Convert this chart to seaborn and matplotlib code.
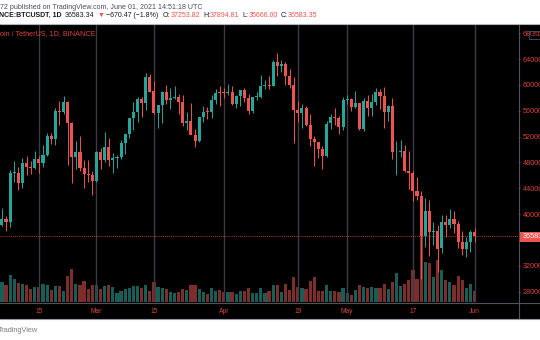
import matplotlib
matplotlib.use("Agg")
import numpy as np
import pandas as pd
import matplotlib.pyplot as plt
from matplotlib.patches import Rectangle
from matplotlib.lines import Line2D
import seaborn as sns

# ---- BTC/USDT daily candles, Binance, 2021-02-05 .. 2021-06-01 ----
dates = pd.date_range("2021-02-05", "2021-06-01", freq="D")

opens = [
    36936, 38290, 39181, 38795, 46374, 46420, 44807, 47969, 47298, 47156, 48580, 47911,
    49133, 52117, 51553, 55906, 55841, 57412, 54087, 48892, 49676, 47073, 46277, 46103,
    45134, 49596, 48436, 50349, 48374, 48747, 48882, 50959, 52375, 54874, 55851, 57773,
    57222, 61188, 58976, 55605, 56900, 58912, 57641, 58030, 58100, 57351, 54084, 54342,
    52303, 51293, 55026, 55817, 55782, 57635, 58760,
    58740, 58720, 58950, 57051, 58202, 59130, 57991, 55953, 58077, 58142, 59769, 60002,
    59860, 63576, 62960, 63159, 61335, 60006, 56150, 55633, 56425, 53787, 51690, 51110,
    50047, 49004, 54022, 55033, 54825, 53556,
    57697, 57828, 56578, 57169, 53206, 57436, 56393, 57315, 58866, 58241, 55816, 56670,
    49537, 49672, 49841, 46723, 46424, 43538, 42849, 36691, 40526, 37253, 37449, 34700,
    38797, 38324, 39241, 38529, 35661, 34606, 35658,
    37253.82,
]
highs = [
    38310, 40955, 39700, 46794, 48200, 47310, 48678, 48985, 48150, 49707, 49010, 50620,
    52618, 52530, 56368, 57493, 58352, 57508, 54183, 51374, 52041, 48424, 48394, 46638,
    49791, 50200, 52640, 51773, 49448, 49200, 51450, 52402, 54895, 57387, 58150, 58058,
    61844, 61724, 60633, 56938, 58982, 60000, 59468, 59880, 58589, 58430, 55830, 57200,
    53230, 55073, 56700, 56559, 58400, 59368, 59800,
    59490, 60200, 59791, 58500, 59251, 59474, 58650, 58153, 58869, 61500, 60699, 61300,
    63777, 64854, 63800, 63520, 62506, 61287, 57526, 57076, 56757, 55521, 52131, 51200,
    50566, 54356, 55460, 56428, 55200, 58075,
    58458, 57932, 58980, 57200, 57980, 58360, 58650, 59500, 59300, 59600, 56862, 58000,
    51367, 51483, 50700, 49800, 46643, 45799, 43546, 42451, 42200, 38856, 38270, 39920,
    39791, 40841, 40411, 38877, 37338, 36400, 37499,
    37894.81,
]
lows = [
    36570, 38215, 37351, 37988, 45000, 43727, 43995, 46125, 46202, 47014, 46347, 47225,
    48947, 50901, 50710, 53863, 55477, 47622, 44892, 47004, 46674, 44106, 45000, 43000,
    45000, 47047, 48100, 47500, 46300, 47070, 48550, 49274, 51789, 53005, 54272, 55013,
    56078, 58966, 55542, 53271, 54124, 57023, 56270, 57820, 55450, 53650, 53000, 52820,
    50427, 51214, 54242, 54691, 54900, 57000, 56769,
    57935, 58428, 56880, 56478, 56800, 57333, 55473, 55700, 57670, 57900, 59300, 59371,
    59770, 61301, 62020, 60000, 59580, 51000, 54221, 53329, 53696, 50500, 47500, 48753,
    46930, 48800, 53222, 53813, 52330, 53068,
    57052, 56000, 56478, 53000, 52900, 55200, 55241, 56900, 56235, 53400, 54370, 48600,
    46000, 48800, 46555, 43825, 42001, 42250, 30000, 34850, 33488, 35200, 31111, 34031,
    36419, 37800, 37134, 34684, 33632, 33380, 34153,
    35666.00,
]
closes = [
    38290, 39186, 38795, 46374, 46420, 44807, 47969, 47287, 47153, 48577, 47911, 49133,
    52119, 51552, 55906, 55841, 57408, 54087, 48891, 49676, 47073, 46276, 46106, 45135,
    49587, 48440, 50349, 48374, 48751, 48882, 50971, 52375, 54884, 55851, 57773, 57221,
    61188, 58968, 55605, 56900, 58912, 57648, 58030, 58102, 57351, 54083, 54340, 52303,
    51293, 55025, 55817, 55777, 57635, 58746, 58740,
    58720, 58950, 57051, 58202, 59129, 57991, 55953, 58077, 58142, 59769, 60002, 59860,
    63575, 62959, 63160, 61334, 60006, 56150, 55633, 56425, 53787, 51690, 51125, 50047,
    49004, 54021, 55033, 54824, 53555, 57697,
    57828, 56578, 57169, 53200, 57436, 56393, 57314, 58862, 58240, 55816, 56670, 49631,
    49670, 49841, 46708, 46426, 43538, 42849, 36691, 40526, 37252, 37449, 34655, 38797,
    38324, 39241, 38529, 35664, 34606, 35678, 37253,
    36583.35,
]
# traded volume, thousand BTC
volumes = [
    60, 79, 68, 108, 91, 76, 72, 69, 51, 59, 60, 72,
    69, 48, 64, 64, 45, 105, 132, 73, 68, 85, 53, 67,
    67, 51, 64, 67, 61, 37, 44, 53, 56, 65, 65, 56,
    67, 44, 80, 60, 56, 53, 41, 37, 39, 51, 48, 67,
    69, 51, 41, 32, 56, 44, 48,
    40, 40, 40, 32, 44, 44, 57, 36, 36, 55, 36, 45,
    67, 67, 40, 73, 49, 100, 61, 57, 52, 84, 100, 45,
    45, 68, 45, 45, 40, 56,
    37, 28, 47, 68, 61, 55, 59, 55, 55, 71, 51, 79,
    115, 64, 71, 89, 128, 92, 272, 160, 156, 99, 169, 127,
    87, 81, 68, 105, 89, 56, 73,
    45,
]

tick_dates = ["2021-02-15", "2021-03-01", "2021-03-15", "2021-04-01",
              "2021-04-19", "2021-05-01", "2021-05-17", "2021-06-01"]
tick_labels = ["15", "Mar", "15", "Apr", "19", "May", "17", "Jun"]
price_ticks = [28000, 32000, 36000, 40000, 44000, 48000, 52000,
               56000, 60000, 64000, 68000]
last_price = 36583.35
prev_close = 37253.82

# ---- styling ----
sns.set_theme(style="dark")
plt.rcParams["font.family"] = ["Liberation Sans", "DejaVu Sans"]

UP, DOWN = "#26a69a", "#ef5350"
UP_VOL, DOWN_VOL = "#1a5c56", "#7c2d2c"
AXIS_RED = "#d9463f"
GRID = "#3a3d47"
SEP = "#50535e"
DARK = "#131722"

W, H = 540, 340
fig = plt.figure(figsize=(W / 100, H / 100), dpi=100, facecolor="white")


def fx(x):
    return x / W


def fy(y):
    return 1 - y / H


# dark chart panel
fig.patches.append(Rectangle((0, fy(319)), 1, fy(24) - fy(319), transform=fig.transFigure,
                             facecolor="black", edgecolor="none", zorder=-10))

df = pd.DataFrame({"date": dates, "open": opens, "high": highs, "low": lows,
                   "close": closes, "volume": volumes})
df["day"] = (df["date"] - df["date"].iloc[0]).dt.days
df["dir"] = np.where(df["close"] >= df["open"], "up", "down")

px_per_day = 4.11
x_first = -2.21          # pixel position of the first session
x_lo = (0 - x_first) / px_per_day
x_hi = (518 - x_first) / px_per_day

rect = [0, fy(302), 518 / W, 277 / H]

# volume overlay (behind candles)
vax = fig.add_axes(rect)
vax.set_facecolor("black")
sns.barplot(data=df, x="day", y="volume", hue="dir", native_scale=True,
            palette={"up": UP_VOL, "down": DOWN_VOL}, saturation=1, width=0.78,
            dodge=False, errorbar=None, legend=False, linewidth=0, ax=vax)
vax.set_xlim(x_lo, x_hi)
vax.set_ylim(0, 277 * 4)
vax.axis("off")

# price pane
ax = fig.add_axes(rect)
ax.set_facecolor("none")
ax.set_xlim(x_lo, x_hi)
ax.set_ylim(26407, 69260)

tick_days = [(pd.Timestamp(d) - df["date"].iloc[0]).days for d in tick_dates]
for d in tick_days:
    ax.axvline(d, color=GRID, lw=1.0, zorder=0)

colors = np.where(df["dir"] == "up", UP, DOWN)
ax.vlines(df["day"], df["low"], df["high"], colors=colors, lw=0.7, zorder=2)
body_lo = np.minimum(df["open"], df["close"])
body_h = np.maximum(np.abs(df["close"] - df["open"]), 140)
ax.bar(df["day"], body_h, bottom=body_lo, width=0.74, color=colors, linewidth=0, zorder=3)

ax.axhline(last_price, color=DOWN, lw=0.6, ls=(0, (1, 1.5)), zorder=1)

for s in ax.spines.values():
    s.set_visible(False)

ax.yaxis.tick_right()
ax.set_yticks(price_ticks)
ax.set_yticklabels([str(p) for p in price_ticks])
ax.tick_params(axis="y", length=1.5, width=0.6, color=SEP, pad=1.8,
               labelsize=5.2, labelcolor=AXIS_RED)
ax.set_xticks(tick_days)
ax.set_xticklabels(tick_labels)
ax.tick_params(axis="x", length=0, pad=4.6, labelsize=4.8, labelcolor=AXIS_RED)
ax.grid(False)
ax.set_xlabel("")
ax.set_ylabel("")

# pane separators and borders
fig.add_artist(Line2D([0, 1], [fy(302.5), fy(302.5)], transform=fig.transFigure, color=SEP, lw=0.8))
fig.add_artist(Line2D([fx(518.5), fx(518.5)], [fy(24), fy(319)], transform=fig.transFigure, color=SEP, lw=0.8))
fig.add_artist(Line2D([0, 1], [fy(24), fy(24)], transform=fig.transFigure, color="#b2b5be", lw=0.8))
fig.add_artist(Line2D([0, 1], [fy(319), fy(319)], transform=fig.transFigure, color="#9598a1", lw=0.8))

# last-price marker on the price scale
fig.patches.append(Rectangle((fx(519.5), fy(241.7)), 1, fy(232) - fy(241.7), transform=fig.transFigure,
                             facecolor=DOWN, edgecolor="none", zorder=5))
fig.text(fx(523), fy(236.8), f"{last_price:.2f}", color="white", fontsize=5.2,
         va="center", ha="left", zorder=6)

# currency badge
fig.patches.append(Rectangle((fx(528.5), fy(38.5)), 1, fy(31) - fy(38.5), transform=fig.transFigure,
                             facecolor="black", edgecolor=SEP, lw=0.6, zorder=5))
fig.text(fx(530), fy(34.9), "USD", color=AXIS_RED, fontsize=4.6, va="center", ha="left", zorder=6)

renderer = fig.canvas.get_renderer()


def flow(x0, x_end, y, pieces, base=5.0, zorder=6):
    """Lay out coloured pieces left to right, sized to span x0..x_end pixels."""
    arts, widths = [], []
    for text, color, weight, gap in pieces:
        a = fig.text(0, fy(y), text, color=color, fontweight=weight, fontsize=base,
                     va="center", ha="left", zorder=zorder)
        arts.append(a)
        widths.append(a.get_window_extent(renderer).width + gap * base * 100 / 72)
    k = (x_end - x0) / sum(widths)
    x = x0
    for a, w in zip(arts, widths):
        a.set_fontsize(base * k)
        a.set_x(fx(x))
        x += w * k


change = last_price - prev_close
pct = change / prev_close * 100

flow(-0.5, 205, 7.3, [("72 published on TradingView.com, June 01, 2021 14:51:18 UTC",
                       "#4a4d57", "normal", 0)])
flow(-1, 318, 15.8, [
    ("NCE:BTCUSDT, 1D", DARK, "bold", 0.35),
    ("36583.34", DARK, "normal", 0.3),
    ("\u25bc", DOWN, "normal", 0.3),
    (f"\u2212{abs(change):.2f} (\u2212{abs(pct):.1f}%)", DARK, "normal", 0.45),
    ("O:", DARK, "normal", 0.0),
    (f"{prev_close:.2f}", DOWN, "normal", 0.35),
    ("H:", DARK, "normal", 0.0),
    (f"{highs[-1]:.2f}", DOWN, "normal", 0.35),
    ("L:", DARK, "normal", 0.0),
    (f"{lows[-1]:.2f}", DOWN, "normal", 0.35),
    ("C:", DARK, "normal", 0.0),
    (f"{last_price:.2f}", DOWN, "normal", 0.0),
])
flow(-0.5, 97, 33.3, [("oin / TetherUS, 1D, BINANCE", AXIS_RED, "normal", 0)])
flow(-2.5, 38.6, 330.6, [("TradingView", "#787b86", "normal", 0)])

fig.savefig("out.png", dpi=100, facecolor="white")
